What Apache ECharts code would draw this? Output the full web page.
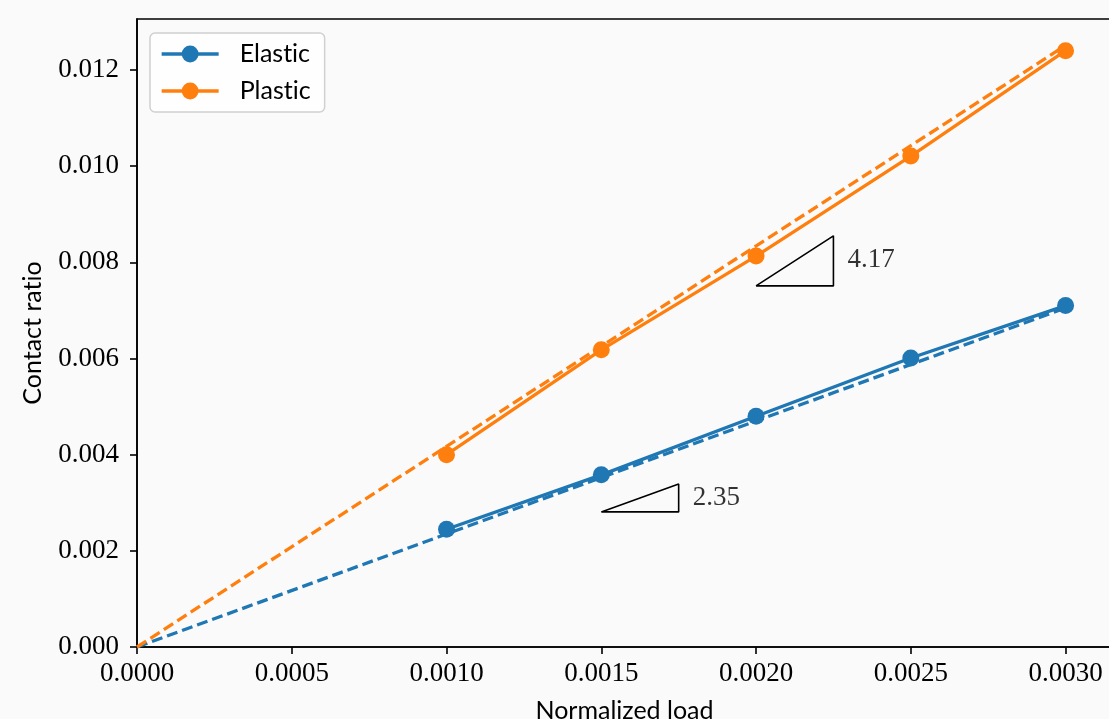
<!DOCTYPE html>
<html>
<head>
<meta charset="utf-8">
<script src="https://cdn.jsdelivr.net/npm/echarts@6/dist/echarts.min.js"></script>
<style>
  html, body { margin: 0; padding: 0; background: #fafafa; }
  #mainChart { width: 1109px; height: 719px; }
</style>
</head>
<body>
<div id="mainChart"></div>
<script>
// 接触比 vs 归一化载荷
var loads = [0.0010, 0.0015, 0.0020, 0.0025, 0.0030];
var elasticData = [0.00245, 0.00358, 0.00480, 0.00601, 0.00710];
var plasticData = [0.00400, 0.00618, 0.00813, 0.01021, 0.01240];

// 拟合直线 (过原点)
var fitX = [0, 0.0030];
var elasticFit = [0, 0.00705];
var plasticFit = [0, 0.01251];

// 斜率三角形
var plasticTri = [[0.0020, 0.00751], [0.00225, 0.00751], [0.00225, 0.00855], [0.0020, 0.00751]];
var elasticTri = [[0.0015, 0.00281], [0.00175, 0.00281], [0.00175, 0.00339], [0.0015, 0.00281]];
var slopeLabels = [
    { value: [0.00225, 0.00804], text: '4.17' },
    { value: [0.00175, 0.00310], text: '2.35' }
];

var xTicks = [0, 0.0005, 0.0010, 0.0015, 0.0020, 0.0025, 0.0030];
var yTicks = [0, 0.002, 0.004, 0.006, 0.008, 0.010, 0.012];

var blue = '#1f77b4';
var orange = '#ff7f0e';
var serif = '"Liberation Serif", "DejaVu Serif", serif';
var sans = 'Lato, "Open Sans", sans-serif';

function pairs(xs, ys) {
    return xs.map(function (x, i) { return [x, ys[i]]; });
}
// Lato 的 "ti" 连字会改变字形，插入零宽非连接符
function noLig(s) {
    return s.replace(/ti/g, 't\u200Ci');
}

var myChart = echarts.init(document.getElementById('mainChart'));

var option = {
    backgroundColor: '#fafafa',
    animation: false,
    grid: {
        left: 137,
        top: 19,
        width: 975,
        height: 628,
        outerBoundsMode: 'none',
        show: true,
        borderColor: '#000',
        borderWidth: 1.6,
        backgroundColor: 'transparent'
    },
    legend: {
        data: ['Elastic', 'Plastic'],
        formatter: noLig,
        left: 150,
        top: 33,
        orient: 'vertical',
        itemWidth: 57,
        itemHeight: 21,
        itemGap: 11,
        padding: [8, 14, 8, 10],
        backgroundColor: 'rgba(255,255,255,0.8)',
        borderColor: '#d0d0d0',
        borderWidth: 1.5,
        borderRadius: 5,
        lineStyle: { width: 3.3 },
        textStyle: {
            fontFamily: sans,
            fontSize: 25,
            color: '#000',
            lineHeight: 26,
            padding: [0, 0, 0, 16]
        }
    },
    xAxis: {
        type: 'value',
        min: 0,
        max: 0.00315,
        name: 'Normalized load',
        nameLocation: 'middle',
        nameGap: 51,
        nameTextStyle: { fontFamily: sans, fontSize: 25, color: '#000' },
        splitLine: { show: false },
        axisLine: { lineStyle: { color: '#000', width: 1.6 } },
        axisTick: { customValues: xTicks, length: 7, lineStyle: { color: '#000', width: 1.6 } },
        axisLabel: {
            customValues: xTicks,
            margin: 13,
            fontFamily: serif,
            fontSize: 27,
            color: '#000',
            formatter: function (v) { return v.toFixed(4); }
        }
    },
    yAxis: {
        type: 'value',
        min: 0,
        max: 0.01306,
        name: noLig('Contact ratio'),
        nameLocation: 'middle',
        nameGap: 92,
        nameTextStyle: { fontFamily: sans, fontSize: 25, color: '#000' },
        splitLine: { show: false },
        axisLine: { lineStyle: { color: '#000', width: 1.6 } },
        axisTick: { customValues: yTicks, length: 7, lineStyle: { color: '#000', width: 1.6 } },
        axisLabel: {
            customValues: yTicks,
            margin: 18,
            fontFamily: serif,
            fontSize: 27,
            color: '#000',
            formatter: function (v) { return v.toFixed(3); }
        }
    },
    series: [{
        name: 'Elastic fit',
        type: 'line',
        data: pairs(fitX, elasticFit),
        showSymbol: false,
        lineStyle: { color: blue, width: 3.3, type: [11, 5] },
        z: 2
    }, {
        name: 'Plastic fit',
        type: 'line',
        data: pairs(fitX, plasticFit),
        showSymbol: false,
        lineStyle: { color: orange, width: 3.3, type: [11, 5] },
        z: 2
    }, {
        name: 'Elastic',
        type: 'line',
        data: pairs(loads, elasticData),
        symbol: 'circle',
        symbolSize: 17,
        itemStyle: { color: blue },
        lineStyle: { color: blue, width: 3.3 },
        z: 3
    }, {
        name: 'Plastic',
        type: 'line',
        data: pairs(loads, plasticData),
        symbol: 'circle',
        symbolSize: 17,
        itemStyle: { color: orange },
        lineStyle: { color: orange, width: 3.3 },
        z: 3
    }, {
        name: 'tri1',
        type: 'line',
        data: plasticTri,
        showSymbol: false,
        lineStyle: { color: '#000', width: 1.6 },
        z: 4
    }, {
        name: 'tri2',
        type: 'line',
        data: elasticTri,
        showSymbol: false,
        lineStyle: { color: '#000', width: 1.6 },
        z: 4
    }, {
        name: 'slopes',
        type: 'scatter',
        symbolSize: 0,
        data: slopeLabels.map(function (s) { return { value: s.value, name: s.text }; }),
        label: {
            show: true,
            position: 'right',
            distance: 14,
            formatter: function (p) { return p.name; },
            fontFamily: serif,
            fontSize: 27,
            color: '#000'
        },
        z: 5
    }]
};

myChart.setOption(option);
</script>
</body>
</html>
